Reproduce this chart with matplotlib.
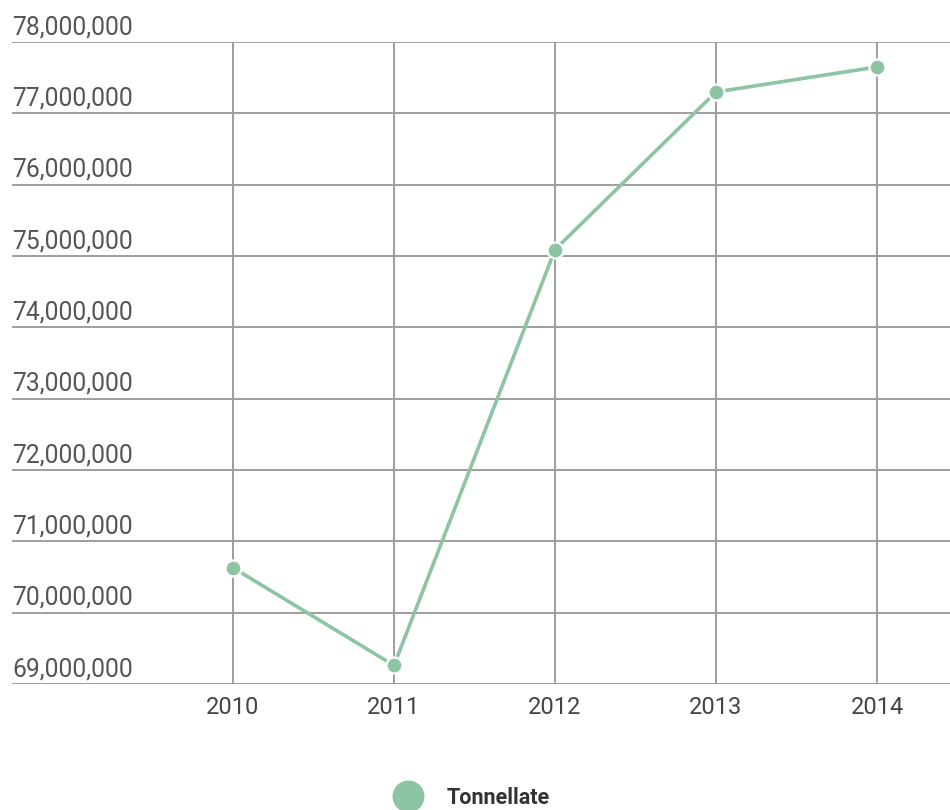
import matplotlib
matplotlib.use('Agg')
import matplotlib.pyplot as plt
import matplotlib.transforms as mtransforms
from matplotlib.lines import Line2D

anni = ['2010', '2011', '2012', '2013', '2014']
tonnellate = [70630000, 69260000, 75090000, 77300000, 77650000]
serie = 'Tonnellate'

y_ticks = list(range(69000000, 78000001, 1000000))

VERDE = '#8cc4a4'
GRIGLIA = '#9e9e9e'

plt.rcParams['font.family'] = ['Roboto', 'DejaVu Sans']

fig = plt.figure(figsize=(9.5, 8.1), dpi=100)
W, H = 950, 810
ax = fig.add_axes([12 / W, (H - 684) / H, (950 - 12) / W, (684 - 42) / H])

x = list(range(len(anni)))
ax.plot(x, tonnellate, color=VERDE, linewidth=2.6, marker='o', markersize=11.5,
        markerfacecolor=VERDE, markeredgecolor='white', markeredgewidth=1.6,
        zorder=3, clip_on=False)

ax.set_xlim(-(233 - 12) / 161, 4 + (950 - 877) / 161)
ax.set_ylim(y_ticks[0], y_ticks[-1])

ax.set_xticks(x)
ax.set_xticklabels(anni, fontsize=17, color='#444444')
ax.set_yticks(y_ticks)
ax.set_yticklabels([])
ax.tick_params(axis='both', length=0)
ax.tick_params(axis='x', pad=9)

ax.grid(True, color=GRIGLIA, linewidth=1.4)
ax.set_axisbelow(True)
for s in ax.spines.values():
    s.set_visible(False)

trans = mtransforms.blended_transform_factory(ax.transAxes, ax.transData)
shift = mtransforms.ScaledTranslation(0, 3 / 100, fig.dpi_scale_trans)
for v in y_ticks:
    ax.text(0.0, v, f'{v:,}', transform=trans + shift, ha='left', va='bottom',
            fontsize=17.7, color='#555555')

handle = Line2D([], [], linestyle='none', marker='o', markersize=22,
                markerfacecolor=VERDE, markeredgecolor=VERDE)
leg = fig.legend([handle], [serie], loc='center', bbox_to_anchor=(468 / W, 1 - 798 / H),
                 frameon=False, handletextpad=0.8, borderaxespad=0,
                 prop={'family': 'Roboto', 'weight': 'bold', 'size': 15.5})
for t in leg.get_texts():
    t.set_color('#333333')

fig.savefig('out.png', dpi=100)
